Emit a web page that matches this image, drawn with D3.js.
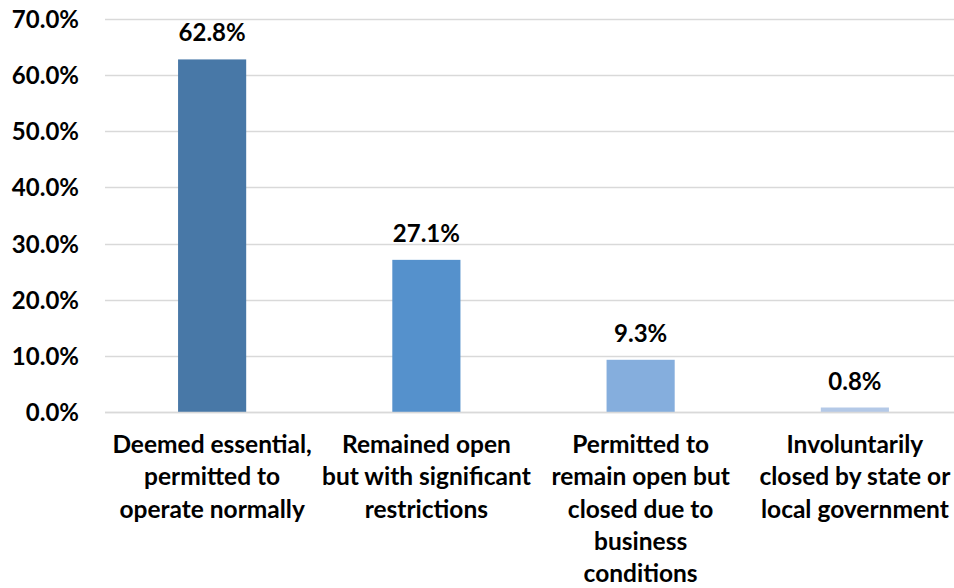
<!DOCTYPE html>
<html>
<head>
<meta charset="utf-8">
<script src="https://cdn.jsdelivr.net/npm/d3@7"></script>
<style>
  html, body { margin: 0; padding: 0; background: #fff; }
  svg { display: block; }
  text { font-family: Lato, "Open Sans", sans-serif; font-weight: 700; fill: #000; }
</style>
</head>
<body>
<svg id="chart" width="954" height="588"></svg>
<script>
const categories = [
  ["Deemed essential,", "permitted to", "operate normally"],
  ["Remained open", "but with significant", "restrictions"],
  ["Permitted to", "remain open but", "closed due to", "business", "conditions"],
  ["Involuntarily", "closed by state or", "local government"]
];
const values = [62.8, 27.1, 9.3, 0.8];
const barColors = ["#4878a7", "#5591cc", "#85aedd", "#b4c9e7"];
const yTicks = [0, 10, 20, 30, 40, 50, 60, 70];

(function () {
const svg = d3.select("#chart");
const W = 954;
const mLeft = 105, mRight = 962, mTop = 19, mBottom = 412;

const x = d3.scaleBand()
  .domain(d3.range(values.length))
  .range([mLeft, mRight])
  .paddingInner(0.682)
  .paddingOuter(0.341);

const y = d3.scaleLinear().domain([0, 70]).range([mBottom, mTop]);

svg.append("g").selectAll("line")
  .data(yTicks)
  .join("line")
  .attr("x1", mLeft).attr("x2", W)
  .attr("y1", d => Math.round(y(d)) + 0.5)
  .attr("y2", d => Math.round(y(d)) + 0.5)
  .attr("stroke", "#d9d9d9")
  .attr("stroke-width", 1.3);

svg.append("g").selectAll("text")
  .data(yTicks)
  .join("text")
  .attr("x", 79)
  .attr("y", d => y(d) + 9)
  .attr("text-anchor", "end")
  .style("font-size", "24px")
  .text(d => d.toFixed(1) + "%");

svg.append("g").selectAll("rect")
  .data(values)
  .join("rect")
  .attr("x", (d, i) => x(i))
  .attr("width", x.bandwidth())
  .attr("y", d => y(d))
  .attr("height", d => y(0) - y(d))
  .attr("fill", (d, i) => barColors[i]);

svg.append("line")
  .attr("x1", mLeft).attr("x2", W)
  .attr("y1", mBottom + 0.5).attr("y2", mBottom + 0.5)
  .attr("stroke", "#d9d9d9").attr("stroke-width", 1.5);

svg.append("g").selectAll("text")
  .data(values)
  .join("text")
  .attr("x", (d, i) => x(i) + x.bandwidth() / 2)
  .attr("y", d => y(d) - 18)
  .attr("text-anchor", "middle")
  .style("font-size", "24px")
  .text(d => d.toFixed(1) + "%");

const cat = svg.append("g").selectAll("text")
  .data(categories)
  .join("text")
  .attr("text-anchor", "middle")
  .style("font-size", "24.5px");
cat.each(function (lines, i) {
  const cx = x(i) + x.bandwidth() / 2;
  d3.select(this).selectAll("tspan")
    .data(lines)
    .join("tspan")
    .attr("x", cx)
    .attr("y", (l, j) => 453 + j * 32.3)
    .text(l => l);
});
})();
</script>
</body>
</html>
